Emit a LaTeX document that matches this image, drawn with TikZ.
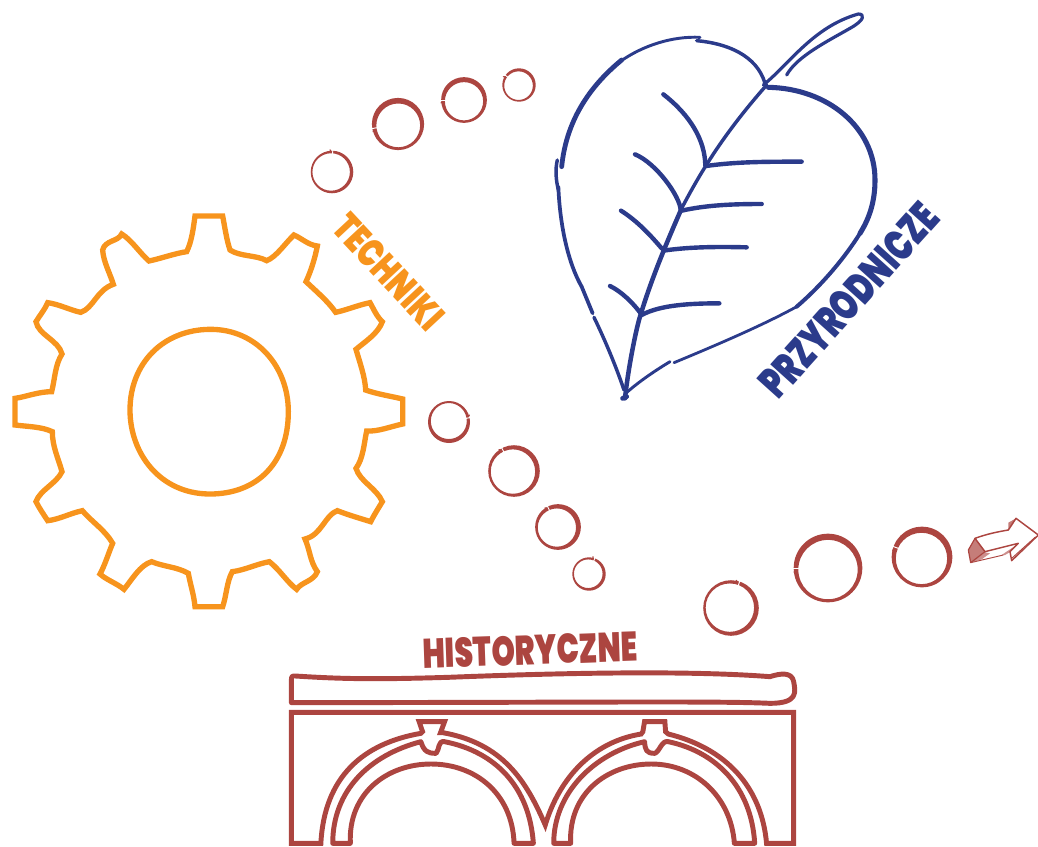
\documentclass[tikz,border=0pt]{standalone}
\usepackage{fontspec}
\setmainfont{Poppins}
\newfontfamily\labfont{Poppins Black}
\definecolor{gearc}{HTML}{F7941D}
\definecolor{leafc}{HTML}{2B3B8B}
\definecolor{brc}{HTML}{AC4540}
\newcommand{\sring}[5]{%
  \pgfmathsetmacro{\Rout}{#3+#4*.375}%
  \pgfmathsetmacro{\Rin}{#3-#4*.375}%
  \pgfmathsetmacro{\ox}{#1+.25*#4*cos(#5+90)}%
  \pgfmathsetmacro{\oy}{#2-.25*#4*sin(#5+90)}%
  \fill[brc,even odd rule] (#1,#2) circle[radius=\Rout*.75pt] (\ox,\oy) circle[radius=\Rin*.75pt];
  \draw[white,line width=.7pt] ({#1+(#3-#4)*cos(#5)},{#2-(#3-#4)*sin(#5)}) -- ({#1+(#3+#4)*cos(#5)},{#2-(#3+#4)*sin(#5)});
  \draw[brc,line width=.9pt,line cap=round] ({#1+(#3)*cos(#5+4)},{#2-(#3)*sin(#5+4)}) -- ({#1+(#3+2.2)*cos(#5+7)},{#2-(#3+2.2)*sin(#5+7)});
}
\tikzset{
  gearline/.style={draw=gearc,line width=4pt,line join=miter},
  leafline/.style={draw=leafc,line cap=round,line join=round},
  vein/.style={leafline,line width=3.3pt},
  brline/.style={draw=brc,line width=3.7pt,line join=round},
  lab/.style={inner sep=0pt,font=\fontsize{31pt}{31pt}\labfont},
  zoomfive/.style={shift={(550,0)},x=.25pt,y=-.25pt},
}
\begin{document}
\begin{tikzpicture}[x=.75pt,y=-.75pt]
\useasboundingbox (0,0) rectangle (1038,846);
% gear
\begin{scope}[shift={(0,200)},x=.25pt,y=-.25pt]
\draw[gearline] (585,48) -- (668,48) .. controls (675,85) and (680,120) .. (690,150)
 .. controls (720,170) and (770,165) .. (800,182)
 .. controls (830,170) and (855,130) .. (882,105)
 .. controls (905,115) and (925,135) .. (952,138)
 .. controls (945,175) and (932,215) .. (918,245)
 .. controls (950,275) and (985,305) .. (1007,337)
 .. controls (1040,330) and (1075,315) .. (1110,308)
 .. controls (1120,325) and (1130,350) .. (1147,365)
 .. controls (1135,400) and (1095,425) .. (1068,448)
 .. controls (1080,490) and (1095,530) .. (1097,570)
 .. controls (1130,582) and (1170,588) .. (1208,597)
 -- (1208,672) .. controls (1170,680) and (1135,695) .. (1100,693)
 .. controls (1092,730) and (1090,775) .. (1068,805)
 .. controls (1080,845) and (1130,865) .. (1147,905)
 .. controls (1135,925) and (1122,945) .. (1112,965)
 .. controls (1080,955) and (1045,945) .. (1012,932)
 .. controls (975,945) and (965,1005) .. (915,1017)
 .. controls (930,1050) and (930,1085) .. (952,1115)
 .. controls (940,1145) and (905,1145) .. (890,1168)
 .. controls (860,1145) and (840,1110) .. (808,1085)
 .. controls (770,1092) and (735,1110) .. (697,1115)
 .. controls (680,1145) and (680,1185) .. (668,1220)
 -- (585,1220) .. controls (582,1185) and (570,1150) .. (565,1120)
 .. controls (530,1100) and (490,1100) .. (455,1085)
 .. controls (420,1095) and (395,1140) .. (372,1168)
 .. controls (350,1150) and (320,1140) .. (300,1122)
 .. controls (315,1095) and (325,1060) .. (338,1030)
 .. controls (315,990) and (275,965) .. (247,932)
 .. controls (210,940) and (178,958) .. (143,962)
 .. controls (132,945) and (118,925) .. (108,905)
 .. controls (120,870) and (170,850) .. (186,815)
 .. controls (175,775) and (157,740) .. (157,695)
 .. controls (125,680) and (85,680) .. (45,675)
 -- (45,595) .. controls (80,590) and (115,575) .. (155,575)
 .. controls (165,535) and (165,495) .. (186,462)
 .. controls (175,420) and (115,405) .. (108,365)
 .. controls (120,345) and (135,328) .. (143,308)
 .. controls (175,312) and (210,330) .. (242,337)
 .. controls (280,325) and (290,270) .. (340,253)
 .. controls (330,220) and (310,185) .. (308,150)
 .. controls (315,120) and (355,125) .. (365,102)
 .. controls (395,120) and (420,160) .. (447,183)
 .. controls (485,175) and (525,160) .. (560,155)
 .. controls (575,125) and (580,85) .. (585,48) -- cycle;
\draw[gearline] (632,388) .. controls (770,388) and (865,500) .. (865,635) .. controls (865,790) and (770,882) .. (630,882) .. controls (480,882) and (390,760) .. (390,630) .. controls (390,490) and (490,388) .. (632,388) -- cycle;
\end{scope}
% leaf
\begin{scope}[zoomfive]
\draw[leafline,line width=2.2pt] (210,185) .. controls (280,135) and (370,108) .. (450,112);
\draw[leafline,line width=3.6pt] (35,500) .. controls (50,350) and (130,250) .. (215,180);
\draw[leafline,line width=2.6pt] (440,122) .. controls (530,130) and (620,165) .. (645,250);
\draw[leafline,line width=2.4pt] (640,255) .. controls (720,190) and (790,80) .. (925,42) .. controls (945,42) and (945,60) .. (900,85) .. controls (830,125) and (740,170) .. (710,225);
\draw[leafline,line width=3.8pt] (655,262) .. controls (830,265) and (975,380) .. (975,540) .. controls (975,610) and (955,660) .. (930,700);
\draw[leafline,line width=3pt] (930,700) .. controls (880,780) and (810,860) .. (740,920);
\draw[leafline,line width=2.1pt] (740,920) .. controls (640,975) and (500,1035) .. (372,1088);
\draw[leafline,line width=2.2pt] (360,1085) .. controls (310,1115) and (260,1150) .. (225,1182);
\draw[leafline,line width=2.6pt] (22,480) .. controls (15,510) and (18,540) .. (25,570);
\draw[leafline,line width=2.8pt] (25,560) .. controls (30,680) and (55,790) .. (95,860);
\draw[leafline,line width=2.8pt] (95,860) -- (128,940);
\draw[leafline,line width=2.6pt] (132,952) .. controls (160,1010) and (195,1090) .. (222,1170);
\draw[leafline,line width=3.4pt] (225,1195) .. controls (235,1100) and (260,980) .. (270,950) .. controls (300,850) and (340,750) .. (395,625);
\draw[leafline,line width=2.6pt] (395,625) .. controls (465,490) and (540,380) .. (650,255);
\draw[leafline,line width=3.6pt] (218,1195) -- (230,1190);
\draw[vein] (340,283) .. controls (420,345) and (465,420) .. (466,497);
\draw[vein] (468,498) .. controls (560,485) and (650,485) .. (755,485);
\draw[vein] (255,463) .. controls (320,490) and (390,590) .. (392,630);
\draw[vein] (395,632) .. controls (470,615) and (550,612) .. (635,612);
\draw[vein] (213,632) .. controls (265,665) and (305,710) .. (335,745);
\draw[vein] (340,752) .. controls (420,740) and (510,740) .. (590,742);
\draw[vein] (180,858) .. controls (215,875) and (250,910) .. (272,940);
\draw[vein] (275,945) .. controls (330,915) and (420,910) .. (508,910);
\end{scope}
% rings
\sring{332}{172}{20}{3.4}{88}
\sring{398}{124}{24}{5.6}{190}
\sring{464}{100}{21}{5}{180}
\sring{519}{85}{15.5}{3.2}{145}
\sring{449}{422}{19.5}{4}{12}
\sring{514}{471}{24}{4.8}{118}
\sring{558}{527}{21}{5}{117}
\sring{589}{574}{15.5}{3.2}{70}
\sring{731}{608}{26}{4.8}{72}
\sring{828}{568}{32}{6.2}{180}
\sring{922}{557}{28}{6.2}{160}
% small arrow
\begin{scope}[shift={(940,500)},x=.25pt,y=-.25pt]
\fill[brc!70] (105,115) -- (85,150) -- (92,188) -- (135,155) -- cycle;
\fill[brc!60] (92,188) -- (135,157) -- (150,160) -- (125,178) -- cycle;
\fill[brc!60] (185,165) -- (232,133) -- (212,155) -- (195,165) -- cycle;
\fill[brc!70] (205,88) -- (228,55) -- (205,68) -- cycle;
\draw[brc,line width=1.1pt,line join=round] (105,115) .. controls (140,102) and (175,95) .. (205,90) -- (228,55) -- (295,105) -- (215,182) -- (210,155) -- (235,130) -- (135,155) -- cycle;
\draw[brc,line width=.9pt,line join=round] (105,115) -- (85,150) -- (92,188) -- (135,155);
\draw[brc,line width=.7pt] (92,188) -- (190,165);
\draw[brc,line width=.7pt] (215,175) -- (285,112);
\end{scope}
% bridge
\begin{scope}[shift={(278.5,620)},x=.2542pt,y=-.25pt]
\draw[brline] (38,248) -- (38,180) .. controls (38,170) and (40,167) .. (50,168)
 .. controls (200,178) and (300,178) .. (500,172)
 .. controls (800,160) and (1200,150) .. (1450,170)
 .. controls (1480,160) and (1515,155) .. (1520,185)
 .. controls (1525,215) and (1535,250) .. (1450,250)
 .. controls (1300,243) and (1000,247) .. (38,248) -- cycle;
\draw[brline,line join=miter] (38,670) -- (38,277) -- (1520,277) -- (1520,670) -- (1440,670)
 .. controls (1425,500) and (1320,385) .. (1150,342)
 -- (1142,335) -- (1140,305) -- (1080,305) -- (1075,335) -- (1070,342)
 .. controls (930,365) and (830,470) .. (787,615)
 .. controls (730,480) and (660,370) .. (485,338)
 -- (478,338) -- (490,305) -- (415,305) -- (425,335) -- (420,340)
 .. controls (250,370) and (135,470) .. (125,670) -- cycle;
\draw[brline] (160,670) .. controls (160,510) and (270,405) .. (420,365)
 .. controls (430,395) and (440,400) .. (465,400) .. controls (475,390) and (470,360) .. (490,365)
 .. controls (640,395) and (740,500) .. (752,670)
 -- (695,670) .. controls (690,520) and (580,432) .. (450,432) .. controls (320,432) and (205,520) .. (212,670) -- cycle;
\draw[brline] (812,670) .. controls (812,520) and (930,400) .. (1080,365)
 .. controls (1082,390) and (1085,400) .. (1110,400) .. controls (1125,395) and (1130,360) .. (1150,365)
 .. controls (1290,395) and (1395,500) .. (1405,670)
 -- (1345,670) .. controls (1335,530) and (1230,432) .. (1100,432) .. controls (970,432) and (855,520) .. (862,670) -- cycle;
\end{scope}
% labels
\node[lab,text=brc,rotate=2] (hist) at (530,650) {\scalebox{.72}[1]{HISTORYCZNE}};
\node[lab,text=gearc,rotate=-47] (tech) at (389,272) {\scalebox{.71}[.95]{TECHNIKI}};
\node[lab,text=leafc,rotate=48] (przy) at (849,300) {\scalebox{.745}[1.05]{PRZYRODNICZE}};
\end{tikzpicture}
\end{document}
